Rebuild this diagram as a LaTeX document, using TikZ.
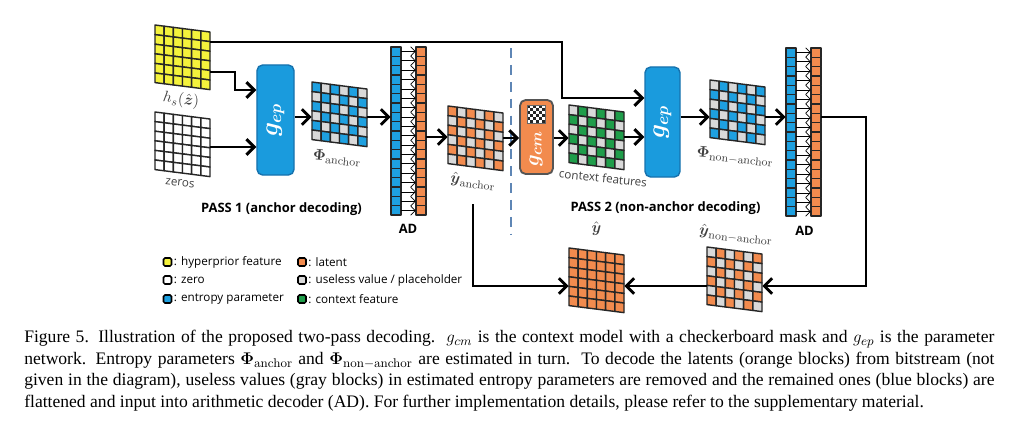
\documentclass[tikz,border=0pt]{standalone}
\usepackage{amsmath, amssymb}
\usepackage[no-math]{fontspec}
\setmainfont{Liberation Serif}
\newfontfamily\labelfont{Open Sans}
\usepackage{tikz}
\usetikzlibrary{arrows.meta}
\usetikzlibrary{positioning,fit,calc}
\usepackage{xcolor}
\definecolor{cellyellow}{HTML}{F4F23C}
\definecolor{cellblue}{HTML}{1EA0E0}
\definecolor{cellorange}{HTML}{F28B4E}
\definecolor{cellgray}{HTML}{D9D9D9}
\definecolor{cellgreen}{HTML}{1F9D4A}
\definecolor{boxblue}{HTML}{1A9BDD}
\definecolor{boxblueedge}{HTML}{1672AE}
\definecolor{boxedge}{HTML}{555555}
\definecolor{labgray}{HTML}{404040}
\definecolor{dashblue}{HTML}{5E86B5}
\tikzset{
    cell/.style={
        draw=black!85,
        line width=1pt,
        line join=round
    },
    arrow/.style={
        draw,
        line width=2.1pt,
        -{Straight Barb[length=5.5pt, width=11pt]}
    },
    tinyarrow/.style={
        draw,
        line width=0.5pt,
        -{Straight Barb[length=3.2pt, width=6.6pt]}
    },
    gepbox/.style={
        draw=boxblueedge,
        fill=boxblue,
        line width=1pt,
        rounded corners=4pt,
        minimum width=0.925cm,
        minimum height=2.75cm
    },
    cmbox/.style={
        draw=boxedge,
        fill=cellorange,
        line width=1.3pt,
        rounded corners=4pt,
        minimum width=0.825cm,
        minimum height=1.85cm
    },
    boxlabel/.style={text=white, rotate=90, inner sep=0pt, font=\fontsize{17}{18}\selectfont},
    mlabel/.style={text=labgray, rotate=-6, inner sep=0pt, font=\fontsize{11}{12}\selectfont},
    slabel/.style={text=labgray, inner sep=0pt, font=\labelfont\fontsize{8.3}{10}\selectfont},
    passlabel/.style={inner sep=0pt, font=\labelfont\bfseries\fontsize{9.2}{11}\selectfont},
    legbox/.style={draw=black, line width=1.1pt, rounded corners=1pt, minimum size=0.2cm, inner sep=0pt},
    legtext/.style={inner sep=0pt, font=\labelfont\fontsize{8.3}{10}\selectfont},
    caption/.style={inner sep=0pt, text width=24.25cm, align=justify, font=\fontsize{12.5}{15.3}\selectfont}
}
% 6x6 block of cells: name, top-left corner, colour of even cells, colour of odd cells
\newcommand{\cellgrid}[4]{%
  \begin{scope}[shift={#2}]
    \foreach \row in {0,...,5}
      \foreach \col in {0,...,5} {
        \pgfmathtruncatemacro{\odd}{mod(\row+\col,2)}
        \ifnum\odd=0 \def\cellcol{#3}\else \def\cellcol{#4}\fi
        \filldraw[cell, fill=\cellcol] (\col*9.17, \row*9.6+\col*1.17) -- ++(9.17,1.17) -- ++(0,9.6) -- ++(-9.17,-1.17) -- cycle;
      }
    \coordinate (#1-nw) at (0,0);
    \coordinate (#1-se) at (55,64.6);
  \end{scope}
  \node[fit=(#1-nw)(#1-se), inner sep=0pt] (#1) {};
}
% column of 18 cells for the arithmetic decoder
\newcommand{\adcolumn}[3]{%
  \begin{scope}[shift={#2}]
    \foreach \row in {0,...,17}
      \filldraw[cell, fill=#3] (0,\row*9.33) rectangle ++(10,9.33);
    \coordinate (#1-nw) at (0,0);
    \coordinate (#1-se) at (10,168);
  \end{scope}
  \node[fit=(#1-nw)(#1-se), inner sep=0pt] (#1) {};
}

\begin{document}
\begin{tikzpicture}[x=0.025cm, y=-0.025cm]
  \fill[white] (0,0) rectangle (1014,423);
  \useasboundingbox (0,0) rectangle (1014,423);

  % PASS 1
  \cellgrid{yel}{(155,25)}{cellyellow}{cellyellow}
  \cellgrid{zer}{(155,112)}{white}{white}
  \node[mlabel] (yell) at (181,100) {$h_s(\hat{\boldsymbol{z}})$};
  \node[slabel, rotate=-6] (zerl) at (180,183) {zeros};

  \node[gepbox] (gep1) at (275.5,120) {};
  \node[boxlabel] at (gep1) {$\boldsymbol{g_{ep}}$};

  \cellgrid{phia}{(312,82)}{cellblue}{cellgray}
  \node[mlabel] (phial) at (337,158) {$\boldsymbol{\Phi}_{\mathrm{anchor}}$};

  \adcolumn{ad1b}{(391,47)}{cellblue}
  \adcolumn{ad1o}{(416,47)}{cellorange}
  \foreach \row in {0,...,17}
    \draw[tinyarrow] ($(ad1b.north east)!{(\row+0.5)/18}!(ad1b.south east)$) -- ($(ad1o.north west)!{(\row+0.5)/18}!(ad1o.south west)$);
  \node[passlabel] (ad1l) at (408,229) {AD};
  \node[passlabel] (pass1) at (281.5,209.5) {PASS 1 (anchor decoding)};

  \cellgrid{yanc}{(448,106)}{cellorange}{cellgray}
  \node[mlabel] (yancl) at (473,181) {$\hat{\boldsymbol{y}}_{\mathrm{anchor}}$};

  % split between the two passes
  \draw[dashblue, line width=1pt, dash pattern=on 7pt off 5pt] (511,48) -- (511,235);

  % PASS 2
  \node[cmbox] (gcm) at (536.5,137) {};
  \foreach \row in {0,...,5}
    \foreach \col in {0,...,5} {
      \pgfmathtruncatemacro{\odd}{mod(\row+\col,2)}
      \ifnum\odd=0 \def\cellcol{black!85}\else \def\cellcol{white}\fi
      \fill[\cellcol] (527+\col*3, 105+\row*3) rectangle ++(3,3);
    }
  \draw[black!60, line width=0.4pt] (527,105) rectangle (545,123);
  \node[boxlabel, font=\fontsize{15}{16}\selectfont] at (536,149) {$\boldsymbol{g_{cm}}$};

  \cellgrid{ctx}{(569,105)}{cellgray}{cellgreen}
  \node[slabel, rotate=-6] (ctxl) at (603,178) {context features};

  \node[gepbox, minimum width=0.875cm] (gep2) at (662.5,122) {};
  \node[boxlabel] at (gep2) {$\boldsymbol{g_{ep}}$};

  \cellgrid{phin}{(710,80)}{cellgray}{cellblue}
  \node[mlabel] (phinl) at (735,157) {$\boldsymbol{\Phi}_{\mathrm{non-anchor}}$};

  \adcolumn{ad2b}{(786,48)}{cellblue}
  \adcolumn{ad2o}{(811,48)}{cellorange}
  \foreach \row in {0,...,17}
    \draw[tinyarrow] ($(ad2b.north east)!{(\row+0.5)/18}!(ad2b.south east)$) -- ($(ad2o.north west)!{(\row+0.5)/18}!(ad2o.south west)$);
  \node[passlabel] (ad2l) at (804.5,231) {AD};
  \node[passlabel] (pass2) at (665.5,208) {PASS 2 (non-anchor decoding)};

  \cellgrid{ynon}{(707,247)}{cellgray}{cellorange}
  \node[mlabel] (ynonl) at (736,235) {$\hat{\boldsymbol{y}}_{\mathrm{non-anchor}}$};
  \cellgrid{yhat}{(569,248)}{cellorange}{cellorange}
  \node[mlabel, rotate=6] (yhatl) at (596.5,229) {$\hat{\boldsymbol{y}}$};

  % connections
  \coordinate (tap) at (473,204);
  \draw[arrow] (yel.east |- 0,42) -| (562,98) -- (gep2.west |- 0,98);
  \draw[arrow] (yel.east |- 0,72) -| (235,90) -- (gep1.west |- 0,90);
  \draw[arrow] (zer.east |- 0,147) -- (gep1.west |- 0,147);
  \draw[arrow] (gep1.east |- 0,117) -- (phia.west |- 0,117);
  \draw[arrow] (phia.east |- 0,117) -- (ad1b.west |- 0,117);
  \draw[arrow] (ad1o.east |- 0,137) -- (yanc.west |- 0,137);
  \draw[arrow] (yanc.east |- 0,138) -- (gcm.west |- 0,138);
  \draw[arrow] (gcm.east |- 0,138) -- (ctx.west |- 0,138);
  \draw[arrow] (ctx.east |- 0,137) -- (gep2.west |- 0,137);
  \draw[arrow] (gep2.east |- 0,117) -- (phin.west |- 0,117);
  \draw[arrow] (phin.east |- 0,117) -- (ad2b.west |- 0,117);
  \draw[arrow] (ad2o.east |- 0,117) -| (866,286) -- (ynon.east |- 0,286);
  \draw[arrow] (ynon.west |- 0,286) -- (yhat.east |- 0,286);
  \draw[arrow] (tap) |- (yhat.west |- 0,286);

  % legend
  \node[legbox, fill=cellyellow] (lyel) at (167.5,262) {};
  \node[legbox, fill=white] (lzer) at (167.5,280) {};
  \node[legbox, fill=cellblue] (lent) at (167.5,299) {};
  \node[legbox, fill=cellorange] (llat) at (302,262) {};
  \node[legbox, fill=cellgray] (lplh) at (302,280) {};
  \node[legbox, fill=cellgreen] (lctx) at (302,299) {};
  \node[legtext, right=1pt of lyel] {: hyperprior feature};
  \node[legtext, right=1pt of lzer] {: zero};
  \node[legtext, right=1pt of lent] {: entropy parameter};
  \node[legtext, right=1pt of llat] {: latent};
  \node[legtext, right=1pt of lplh] {: useless value / placeholder};
  \node[legtext, right=1pt of lctx] {: context feature};

  % caption
  \node[caption, anchor=north west] (cap) at (24,330) {Figure 5. Illustration of the proposed two-pass decoding.\ \ $g_{cm}$ is the context model with a checkerboard mask and $g_{ep}$ is the parameter\linebreak network. Entropy parameters $\boldsymbol{\Phi}_{\mathrm{anchor}}$ and $\boldsymbol{\Phi}_{\mathrm{non-anchor}}$ are estimated in turn.\ \ To decode the latents (orange blocks) from bitstream (not\linebreak given in the diagram), useless values (gray blocks) in estimated entropy parameters are removed and the remained ones (blue blocks) are\linebreak flattened and input into arithmetic decoder (AD). For further implementation details, please refer to the supplementary material.};
\end{tikzpicture}
\end{document}
